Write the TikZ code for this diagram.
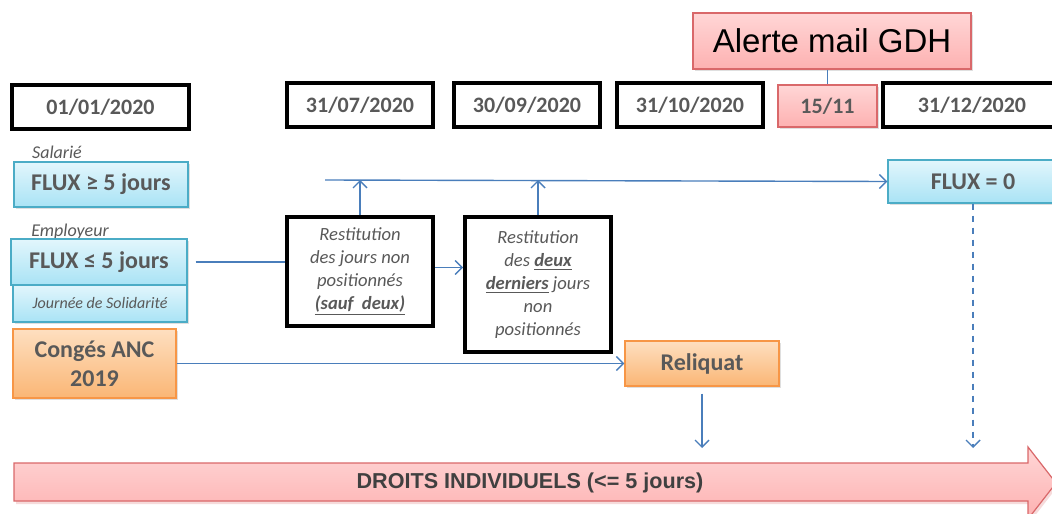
\documentclass[tikz,border=0pt]{standalone}
\usepackage{fontspec}
\setmainfont{Carlito}
\newfontfamily\arialfont{Liberation Sans}
\usetikzlibrary{arrows.meta,shadows}

\definecolor{txtgray}{HTML}{595959}
\definecolor{flowblue}{HTML}{4A7EBB}
\definecolor{cyanedge}{HTML}{4BACC6}
\definecolor{cyantop}{HTML}{E2F6FC}
\definecolor{cyanbot}{HTML}{A9E3F5}
\definecolor{orangeedge}{HTML}{F79646}
\definecolor{orangetop}{HTML}{FEDFC0}
\definecolor{orangebot}{HTML}{FAB675}
\definecolor{pinkedge}{HTML}{D9686A}
\definecolor{pinktop}{HTML}{FFD6D6}
\definecolor{pinkbot}{HTML}{FDB1B1}

\begin{document}
\begin{tikzpicture}[x=0.5pt,y=-0.5pt]
  \tikzset{
  date/.style={draw=black,line width=2pt,fill=white,inner sep=0pt,minimum height=22pt,
    text=txtgray,font=\fontsize{11}{13}\selectfont\bfseries},
  shade/.style={drop shadow={shadow xshift=0.8pt,shadow yshift=-0.8pt,opacity=0.25}},
  pinkbox/.style={draw=pinkedge,line width=0.6pt,top color=pinktop,bottom color=pinkbot,
    inner sep=0pt,shade},
  cyanbox/.style={draw=cyanedge,line width=0.6pt,top color=cyantop,bottom color=cyanbot,
    inner sep=0pt,text=txtgray,font=\fontsize{12}{14}\selectfont\bfseries,shade},
  orangebox/.style={draw=orangeedge,line width=0.6pt,top color=orangetop,bottom color=orangebot,
    inner sep=0pt,align=center,text=txtgray,font=\fontsize{12}{14.5}\selectfont\bfseries,shade},
  restit/.style={draw=black,line width=2pt,fill=white,inner sep=0pt,minimum width=73pt,
    align=center,text=txtgray,font=\fontsize{9.3}{11.5}\selectfont\itshape},
  who/.style={text=txtgray,font=\fontsize{9}{11}\selectfont\itshape,inner sep=0pt},
  line/.style={draw=flowblue,line width=0.7pt},
  flow/.style={line,-{Straight Barb[length=3.5pt,width=7pt]}},
  }
  \useasboundingbox (0,0) rectangle (1052,513);

  % the dates
  \node[date,minimum width=88.5pt] (d1) at (100.5,107) {01/01/2020};
  \node[date,minimum width=73pt] (d2) at (360,105.5) {31/07/2020};
  \node[date,minimum width=73pt] (d3) at (527,105.5) {30/09/2020};
  \node[date,minimum width=73pt] (d4) at (690,105.5) {31/10/2020};
  \node[pinkbox,minimum width=49.5pt,minimum height=21pt,text=txtgray,
    font=\fontsize{11}{13}\selectfont\bfseries] (d5) at (827.5,106) {15/11};
  \node[date,minimum width=89pt] (d6) at (972,105.5) {31/12/2020};
  \node[pinkbox,minimum width=139pt,minimum height=28pt,
    font=\fontsize{16.5}{19}\arialfont] (alert) at (832,41) {Alerte mail GDH};

  % the left column
  \node[who] (sal) at (57,152) {Salarié};
  \node[cyanbox,minimum width=87pt,minimum height=22.5pt] (f1) at (101,184.5) {FLUX ≥ 5 jours};
  \node[who] (emp) at (70,232) {Employeur};
  \node[cyanbox,minimum width=88pt,minimum height=23pt] (f2) at (99,262) {FLUX ≤ 5 jours};
  \node[cyanbox,minimum width=87pt,minimum height=18.5pt,
    font=\fontsize{8}{10}\selectfont\itshape] (js) at (100,303.5) {Journée de Solidarité};
  \node[orangebox,minimum width=81.5pt,minimum height=34.5pt] (anc) at (94.5,363.5) {Congés ANC\\2019};

  % the restitutions
  \node[restit,minimum height=54.5pt] (r1) at (360,271.5)
    {Restitution\\des jours non\\positionnés\\\underline{\textbf{(sauf\ \ deux)}}};
  \node[restit,minimum height=67.5pt] (r2) at (538,284.5)
    {Restitution\\des \underline{\textbf{deux}}\\\underline{\textbf{derniers}} jours\\non\\positionnés};

  % the results
  \node[cyanbox,minimum width=85pt,minimum height=21.5pt] (flux0) at (973,181.5) {FLUX = 0};
  \node[orangebox,minimum width=77pt,minimum height=22.5pt] (rel) at (702,363.5) {Reliquat};

  % the big arrow
  \fill[pinkedge!60,opacity=0.4] (16,466) -- (1030,466) -- (1030,450) -- (1058,486) -- (1030,522)
    -- (1030,504) -- (16,504) -- cycle;
  \draw[draw=pinkedge,line width=0.6pt,top color=pinktop,bottom color=pinkbot]
    (14,463) -- (1028,463) -- (1028,447) -- (1056,483) -- (1028,519) -- (1028,501) -- (14,501) -- cycle;
  \node[text=black!75,font=\fontsize{10.8}{13}\arialfont\bfseries] (droits) at (530,483)
    {DROITS INDIVIDUELS (<= 5 jours)};

  % the connections
  \coordinate (top0) at (325,180);
  \coordinate (bot) at (0,448);
  \draw[line] (d5.north |- alert.south) -- (d5.north);
  \draw[flow] (top0) -- (flux0.west);
  \draw[flow] (r1.north) -- (r1.north |- top0);
  \draw[flow] (r2.north) -- (r2.north |- top0);
  \draw[line] ([xshift=4pt]f2.east) -- (f2.east -| r1.west);
  \draw[flow] ([yshift=2pt]r1.east) -- ([yshift=2pt]r1.east -| r2.west);
  \draw[flow] (anc.east) -- (rel.west);
  \draw[flow] ([yshift=-3.5pt]rel.south) -- (rel.south |- bot);
  \draw[flow,dashed] (flux0.south) -- (flux0.south |- bot);
\end{tikzpicture}
\end{document}
